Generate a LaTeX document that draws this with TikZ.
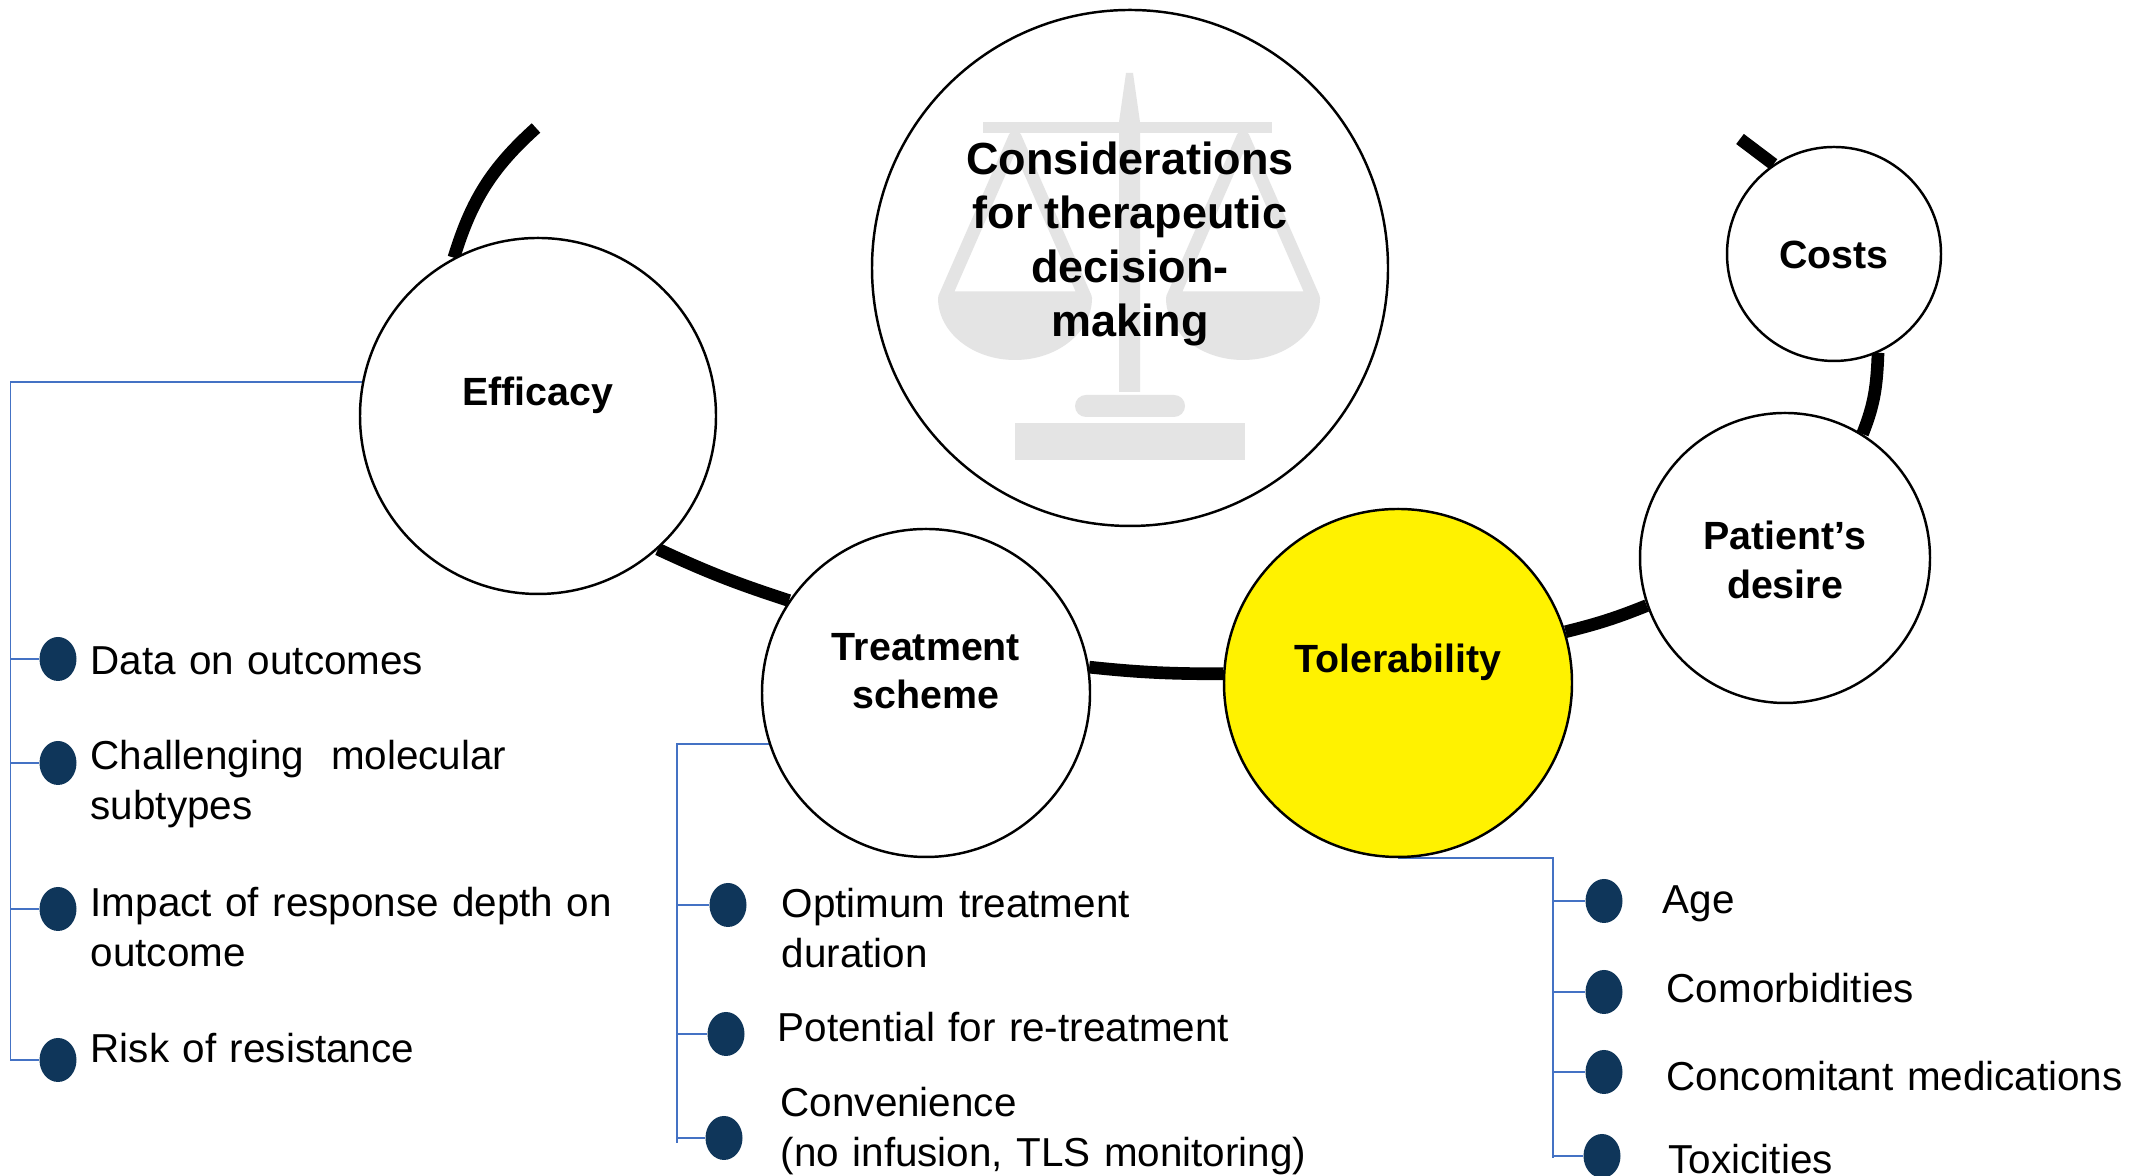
\documentclass[tikz,border=0pt]{standalone}
\usepackage{fontspec}
\setmainfont{Liberation Sans}
\usetikzlibrary{backgrounds,shapes.geometric}

\definecolor{dotblue}{HTML}{0F365A}
\definecolor{railblue}{HTML}{4472C4}
\definecolor{scalegray}{HTML}{E4E4E4}

\tikzset{
    topic/.style={circle, draw=black, line width=0.7pt, fill=white, inner sep=0pt},
    topiclabel/.style={font=\bfseries\fontsize{11.2}{13.7}\selectfont, align=center, inner sep=0pt},
    link/.style={line width=3.6pt, black},
    rail/.style={draw=railblue, line width=0.5pt},
    dot/.style={ellipse, fill=dotblue, minimum width=0.37cm, minimum height=0.44cm, inner sep=0pt},
    item/.style={anchor=base west, inner sep=0pt, align=left, text width=9cm, font=\fontsize{11.5}{14.2}\selectfont},
}

\begin{document}
\begin{tikzpicture}
    \useasboundingbox (0,0) rectangle (21.30,11.76);

    % The circles
    \node[topic, minimum size=5.16cm] (cons) at (11.30,9.08) {};
    \node[topic, minimum size=3.56cm] (eff) at (5.38,7.60) {};
    \node[topic, minimum size=3.28cm] (treat) at (9.26,4.83) {};
    \node[topic, minimum size=3.48cm, fill=yellow] (tol) at (13.98,4.93) {};
    \node[topic, minimum size=2.90cm] (pat) at (17.85,6.18) {};
    \node[topic, minimum size=2.14cm] (costs) at (18.34,9.22) {};

    % Balance in the middle circle
    \fill[scalegray] (11.26,11.03) -- (11.33,11.03) -- (11.40,10.54) -- (11.40,7.84) -- (11.19,7.84) -- (11.19,10.54) -- cycle;
    \fill[scalegray] (9.83,10.43) rectangle (12.72,10.54);
    \draw[scalegray, line width=0.13cm, line join=round] (10.15,10.39) -- (9.445,8.78) -- (10.855,8.78) -- cycle;
    \fill[scalegray] (9.38,8.78) arc[start angle=180, end angle=360, x radius=0.77, y radius=0.62] -- cycle;
    \draw[scalegray, line width=0.13cm, line join=round] (12.43,10.39) -- (11.725,8.78) -- (13.135,8.78) -- cycle;
    \fill[scalegray] (11.66,8.78) arc[start angle=180, end angle=360, x radius=0.77, y radius=0.62] -- cycle;
    \fill[scalegray, rounded corners=0.11cm] (10.75,7.59) rectangle (11.85,7.81);
    \fill[scalegray] (10.15,7.16) rectangle (12.45,7.53);

    % Labels
    \node[topiclabel, font=\bfseries\fontsize{12.8}{15.3}\selectfont] (conslabel) at (11.30,9.32) {Considerations\\for therapeutic\\decision-\\making};
    \node[topiclabel] (efflabel) at (5.38,7.81) {Efficacy};
    \node[topiclabel] (treatlabel) at (9.26,5.05) {Treatment\\scheme};
    \node[topiclabel] (tollabel) at (13.98,5.14) {Tolerability};
    \node[topiclabel] (patlabel) at (17.85,6.16) {Patient’s\\desire};
    \node[topiclabel] (costslabel) at (18.34,9.21) {Costs};

    % Bullets
    \node[dot] (effdot1) at (0.58,5.17) {};
    \node[dot] (effdot2) at (0.58,4.13) {};
    \node[dot] (effdot3) at (0.58,2.67) {};
    \node[dot] (effdot4) at (0.58,1.16) {};
    \node[dot] (treatdot1) at (7.28,2.71) {};
    \node[dot] (treatdot2) at (7.26,1.42) {};
    \node[dot] (treatdot3) at (7.24,0.38) {};
    \node[dot] (toldot1) at (16.04,2.75) {};
    \node[dot] (toldot2) at (16.04,1.84) {};
    \node[dot] (toldot3) at (16.04,1.04) {};
    \node[dot] (toldot4) at (16.02,0.20) {};

    % Items
    \node[item] (effitem1) at (0.90,5.015) {Data on outcomes};
    \node[item] (effitem2) at (0.90,4.06) {Challenging\ \ molecular\\subtypes};
    \node[item] (effitem3) at (0.90,2.59) {Impact of response depth on\\outcome};
    \node[item] (effitem4) at (0.90,1.135) {Risk of resistance};
    \node[item] (treatitem1) at (7.81,2.58) {Optimum treatment\\duration};
    \node[item] (treatitem2) at (7.77,1.34) {Potential for re-treatment};
    \node[item] (treatitem3) at (7.80,0.59) {Convenience\\(no infusion, TLS monitoring)};
    \node[item] (tolitem1) at (16.62,2.62) {Age};
    \node[item] (tolitem2) at (16.66,1.73) {Comorbidities};
    \node[item] (tolitem3) at (16.66,0.85) {Concomitant medications};
    \node[item] (tolitem4) at (16.68,0.02) {Toxicities};

    \coordinate (effend) at (5.36,10.48);
    \coordinate (costsend) at (17.40,10.37);
    \coordinate (effrail) at (0.105,1.16);
    \coordinate (treatrail) at (6.77,0.33);
    \coordinate (tolrail) at (15.53,0.18);

    \begin{scope}[on background layer]
        % Thick links behind the circles
        \draw[link] (eff.118) to[out=73,in=-138] (effend);
        \draw[link] (eff.-48) to[out=-25,in=162] (treat.146);
        \draw[link] (treat.9) to[out=-6,in=180] (tol.177);
        \draw[link] (tol.17) to[out=14,in=-158] (pat.-161);
        \draw[link] (pat.58) to[out=68,in=-92] (costs.-66);
        \draw[link] (costs.124) -- (costsend);

        % Blue brackets
        \draw[rail] (eff.169) -| (effrail);
        \draw[rail] (effrail |- effdot1) -- (effdot1);
        \draw[rail] (effrail |- effdot2) -- (effdot2);
        \draw[rail] (effrail |- effdot3) -- (effdot3);
        \draw[rail] (effrail |- effdot4) -- (effdot4);
        \draw[rail] (treat.198) -| (treatrail);
        \draw[rail] (treatrail |- treatdot1) -- (treatdot1);
        \draw[rail] (treatrail |- treatdot2) -- (treatdot2);
        \draw[rail] (treatrail |- treatdot3) -- (treatdot3);
        \draw[rail] (tol.south) -| (tolrail);
        \draw[rail] (tolrail |- toldot1) -- (toldot1);
        \draw[rail] (tolrail |- toldot2) -- (toldot2);
        \draw[rail] (tolrail |- toldot3) -- (toldot3);
        \draw[rail] (tolrail |- toldot4) -- (toldot4);
    \end{scope}
\end{tikzpicture}
\end{document}
